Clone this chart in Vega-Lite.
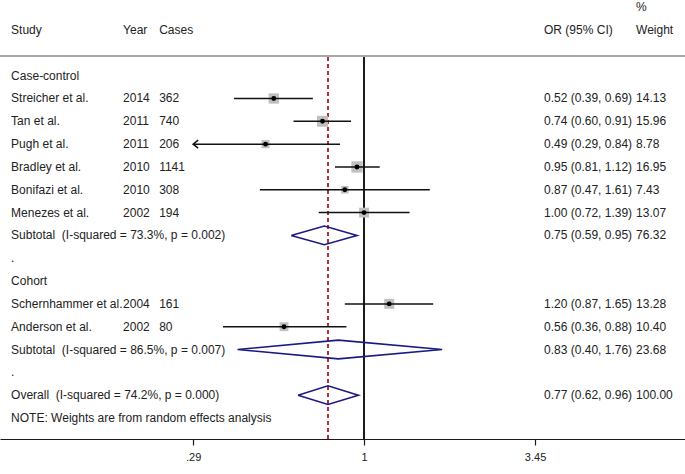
{
  "$schema": "https://vega.github.io/schema/vega-lite/v6.json",
  "width": 685,
  "height": 439,
  "autosize": {"type": "none"},
  "padding": {"left": 0, "right": 0, "top": 0, "bottom": 35},
  "background": "white",
  "config": {"view": {"stroke": null}, "text": {"font": "Liberation Sans", "fontSize": 12, "color": "#222"}},
  "data": {"values": [
    {"row": -1, "wt": "%"},
    {"row": 0, "label": "Study", "year": "Year", "cases": "Cases", "ci": "OR (95% CI)", "wt": "Weight", "type": "header"},
    {"row": 2, "label": "Case-control", "type": "group"},
    {"row": 3, "label": "Streicher et al.", "year": "2014", "cases": "362", "or": 0.52, "lo": 0.39, "hi": 0.69, "w": 14.13, "ci": "0.52 (0.39, 0.69)", "wt": "14.13", "type": "study"},
    {"row": 4, "label": "Tan et al.", "year": "2011", "cases": "740", "or": 0.74, "lo": 0.60, "hi": 0.91, "w": 15.96, "ci": "0.74 (0.60, 0.91)", "wt": "15.96", "type": "study"},
    {"row": 5, "label": "Pugh et al.", "year": "2011", "cases": "206", "or": 0.49, "lo": 0.29, "hi": 0.84, "w": 8.78, "ci": "0.49 (0.29, 0.84)", "wt": "8.78", "type": "study", "arrow": true},
    {"row": 6, "label": "Bradley et al.", "year": "2010", "cases": "1141", "or": 0.95, "lo": 0.81, "hi": 1.12, "w": 16.95, "ci": "0.95 (0.81, 1.12)", "wt": "16.95", "type": "study"},
    {"row": 7, "label": "Bonifazi et al.", "year": "2010", "cases": "308", "or": 0.87, "lo": 0.47, "hi": 1.61, "w": 7.43, "ci": "0.87 (0.47, 1.61)", "wt": "7.43", "type": "study"},
    {"row": 8, "label": "Menezes et al.", "year": "2002", "cases": "194", "or": 1.00, "lo": 0.72, "hi": 1.39, "w": 13.07, "ci": "1.00 (0.72, 1.39)", "wt": "13.07", "type": "study"},
    {"row": 9, "label": "Subtotal\u00a0 (I-squared = 73.3%, p = 0.002)", "or": 0.75, "lo": 0.59, "hi": 0.95, "ci": "0.75 (0.59, 0.95)", "wt": "76.32", "type": "summary"},
    {"row": 10, "label": ".", "type": "dot"},
    {"row": 11, "label": "Cohort", "type": "group"},
    {"row": 12, "label": "Schernhammer et al.", "year": "2004", "cases": "161", "or": 1.20, "lo": 0.87, "hi": 1.65, "w": 13.28, "ci": "1.20 (0.87, 1.65)", "wt": "13.28", "type": "study"},
    {"row": 13, "label": "Anderson et al.", "year": "2002", "cases": "80", "or": 0.56, "lo": 0.36, "hi": 0.88, "w": 10.40, "ci": "0.56 (0.36, 0.88)", "wt": "10.40", "type": "study"},
    {"row": 14, "label": "Subtotal\u00a0 (I-squared = 86.5%, p = 0.007)", "or": 0.83, "lo": 0.40, "hi": 1.76, "ci": "0.83 (0.40, 1.76)", "wt": "23.68", "type": "summary"},
    {"row": 15, "label": ".", "type": "dot"},
    {"row": 16, "label": "Overall\u00a0 (I-squared = 74.2%, p = 0.000)", "or": 0.77, "lo": 0.62, "hi": 0.96, "ci": "0.77 (0.62, 0.96)", "wt": "100.00", "type": "summary"},
    {"row": 17, "label": "NOTE: Weights are from random effects analysis", "type": "note"}
  ]},
  "encoding": {
    "y": {"field": "row", "type": "quantitative", "scale": {"domain": [-1.315, 17.92], "reverse": true, "nice": false, "zero": false}, "axis": null}
  },
  "layer": [
    {
      "mark": {"type": "rule", "color": "#a8a8a8", "strokeWidth": 1.5},
      "encoding": {"y": {"datum": 1.14}}
    },
    {
      "mark": {"type": "rule", "color": "#1a1a1a", "strokeWidth": 1.2},
      "encoding": {
        "x": {"datum": 1, "type": "quantitative",
          "scale": {"type": "log", "domain": [0.0716, 10.22], "nice": false, "zero": false},
          "axis": {"title": null, "values": [0.29, 1, 3.45], "grid": false, "domainColor": "#1a1a1a", "domainWidth": 1.2, "tickColor": "#1a1a1a", "tickWidth": 1.2, "tickSize": 6, "labelPadding": 6, "labelFont": "Liberation Sans", "labelFontSize": 11, "labelColor": "#222", "labelExpr": "datum.value < 0.5 ? '.29' : datum.value < 2 ? '1' : '3.45'", "labelFlush": false, "labelOverlap": false}},
        "y": {"datum": 1.18}, "y2": {"datum": 17.92}}
    },
    {
      "mark": {"type": "rule", "color": "#b0303a", "strokeWidth": 1.2, "strokeDash": [4, 3]},
      "encoding": {"x": {"datum": 0.77, "type": "quantitative"}, "y": {"datum": 1.18}, "y2": {"datum": 17.92}}
    },
    {
      "transform": [{"filter": "datum.type == 'study'"}],
      "mark": {"type": "square", "filled": true, "color": "#c0c0c0", "opacity": 1},
      "encoding": {
        "x": {"field": "or", "type": "quantitative", "title": null},
        "size": {"field": "w", "type": "quantitative", "scale": {"domain": [0, 20], "range": [0, 150]}, "legend": null}
      }
    },
    {
      "transform": [{"filter": "datum.type == 'study'"}],
      "mark": {"type": "rule", "color": "#111", "strokeWidth": 1.5},
      "encoding": {
        "x": {"field": "lo", "type": "quantitative", "title": null},
        "x2": {"field": "hi"}
      }
    },
    {
      "transform": [{"filter": "datum.type == 'study'"}],
      "mark": {"type": "circle", "color": "#000", "size": 24, "opacity": 1},
      "encoding": {"x": {"field": "or", "type": "quantitative", "title": null}}
    },
    {
      "transform": [{"filter": "datum.arrow == true"}],
      "mark": {"type": "point", "shape": "M1.25,-1L0,0L1.25,1", "filled": false, "stroke": "#111", "strokeWidth": 1.5, "size": 64, "opacity": 1},
      "encoding": {"x": {"field": "lo", "type": "quantitative", "title": null}}
    },
    {
      "transform": [
        {"filter": "datum.type == 'summary'"},
        {"calculate": "[{o:0,vx:datum.lo,d:0},{o:1,vx:datum.or,d:-1},{o:2,vx:datum.hi,d:0},{o:3,vx:datum.or,d:1},{o:4,vx:datum.lo,d:0}]", "as": "pts"},
        {"flatten": ["pts"]},
        {"calculate": "datum.pts.vx", "as": "vx"},
        {"calculate": "datum.row + 0.41 * datum.pts.d", "as": "vy"},
        {"calculate": "datum.pts.o", "as": "vo"}
      ],
      "mark": {"type": "line", "color": "#1a1a80", "strokeWidth": 1.6, "strokeJoin": "miter"},
      "encoding": {
        "x": {"field": "vx", "type": "quantitative", "title": null},
        "y": {"field": "vy", "type": "quantitative"},
        "detail": {"field": "row"},
        "order": {"field": "vo"}
      }
    },
    {
      "transform": [{"filter": "isValid(datum.label)"}],
      "mark": {"type": "text", "align": "left", "baseline": "middle"},
      "encoding": {"x": {"datum": 0.0776, "type": "quantitative"}, "text": {"field": "label"}}
    },
    {
      "transform": [{"filter": "isValid(datum.year)"}],
      "mark": {"type": "text", "align": "left", "baseline": "middle"},
      "encoding": {"x": {"datum": 0.1746, "type": "quantitative"}, "text": {"field": "year"}}
    },
    {
      "transform": [{"filter": "isValid(datum.cases)"}],
      "mark": {"type": "text", "align": "left", "baseline": "middle"},
      "encoding": {"x": {"datum": 0.2267, "type": "quantitative"}, "text": {"field": "cases"}}
    },
    {
      "transform": [{"filter": "isValid(datum.ci)"}],
      "mark": {"type": "text", "align": "left", "baseline": "middle"},
      "encoding": {"x": {"datum": 3.682, "type": "quantitative"}, "text": {"field": "ci"}}
    },
    {
      "transform": [{"filter": "isValid(datum.wt)"}],
      "mark": {"type": "text", "align": "left", "baseline": "middle"},
      "encoding": {"x": {"datum": 7.17, "type": "quantitative"}, "text": {"field": "wt"}}
    }
  ]
}
